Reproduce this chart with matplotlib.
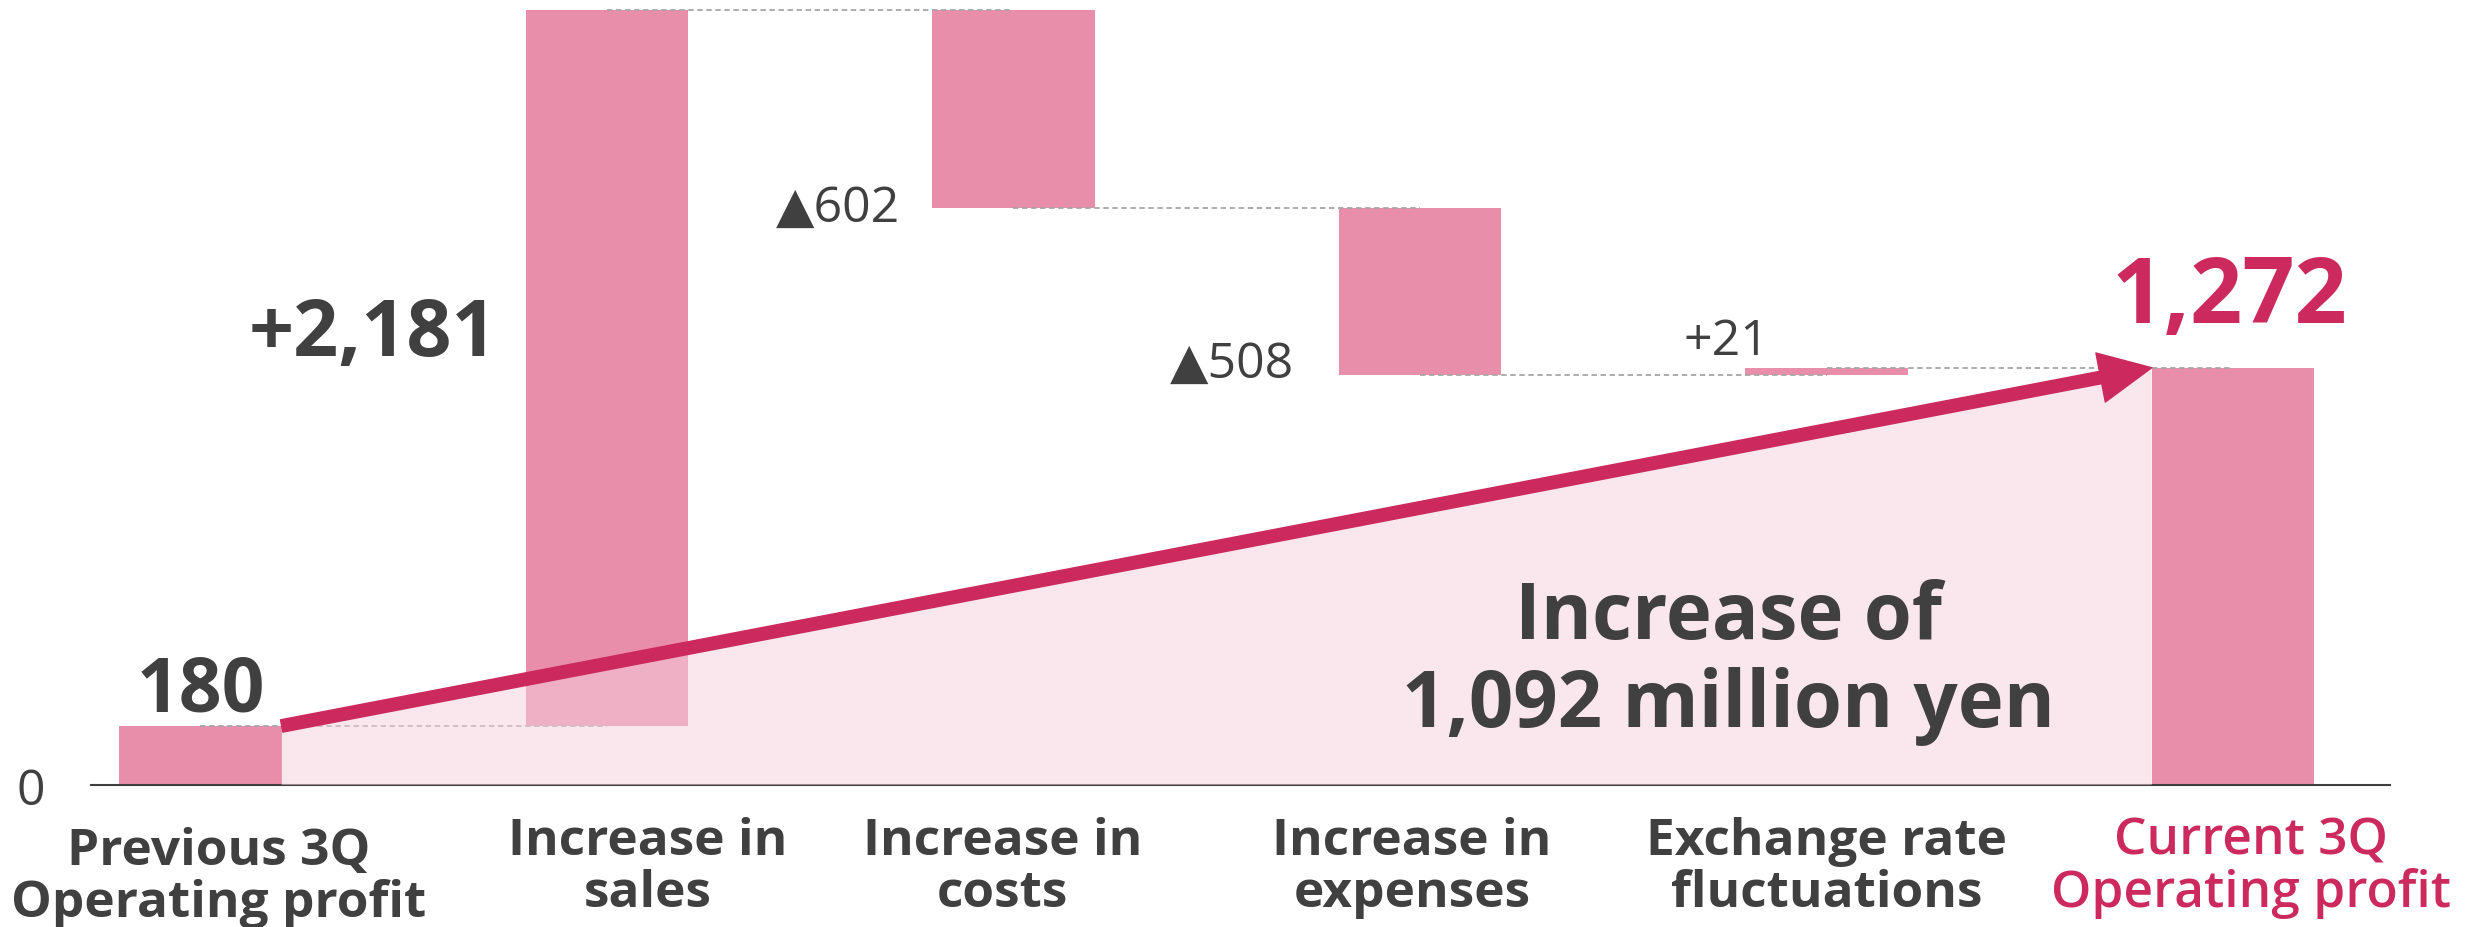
import matplotlib
matplotlib.use("Agg")
import matplotlib.pyplot as plt
from matplotlib.patches import Polygon, FancyArrowPatch

plt.rcParams['font.family'] = ['Open Sans', 'DejaVu Sans']

# data
categories = ["Previous 3Q\nOperating profit", "Increase in\nsales", "Increase in\ncosts",
              "Increase in\nexpenses", "Exchange rate\nfluctuations", "Current 3Q\nOperating profit"]
start_value = 180
changes = [2181, -602, -508, 21]
end_value = 1272
change_labels = ["+2,181", "\u25b2602", "\u25b2508", "+21"]
start_label = "180"
end_label = "1,272"
summary_text = "Increase of\n1,092 million yen"

# colours
bar_color = "#E88EAB"
fill_color = "#F7D1DF"
accent = "#CC2A5E"
dark = "#404040"
dash_color = "#A6A6A6"

# waterfall geometry
levels = [start_value]
for c in changes:
    levels.append(levels[-1] + c)
bottoms = [0]
heights = [start_value]
for i, c in enumerate(changes):
    bottoms.append(min(levels[i], levels[i + 1]))
    heights.append(abs(c))
bottoms.append(0)
heights.append(end_value)
xs = list(range(len(categories)))
width = 0.4

fig = plt.figure(figsize=(24.66, 9.28), dpi=100)
ax = fig.add_axes([91 / 2466, 142 / 928, 2299 / 2466, 786 / 928])
ax.set_xlim(-0.269, 5.386)
ax.set_ylim(0, 2396)

ax.bar(xs, heights, width=width, bottom=bottoms, color=bar_color, zorder=2)

# connectors between bar centres
for i, lv in enumerate(levels):
    ax.plot([i, i + 1], [lv, lv], ls=(0, (3, 2)), color=dash_color, lw=1.3, zorder=2.6)

# shaded wedge under the arrow
x0, x1 = xs[0] + width / 2, xs[-1] - width / 2
wedge = Polygon([(x0, 0), (x0, start_value), (x1, end_value), (x1, 0)],
                closed=True, facecolor=fill_color, edgecolor='none', alpha=0.5, zorder=3)
ax.add_patch(wedge)

arrow = FancyArrowPatch((x0, start_value), (x1, end_value),
                        arrowstyle='simple,head_length=1.25,head_width=1.2,tail_width=0.3',
                        mutation_scale=30, color=accent, shrinkA=0, shrinkB=0, zorder=5)
ax.add_patch(arrow)

# value labels
ax.text(0, 228, start_label, ha='center', va='baseline', fontsize=54,
        fontweight='bold', color=dark, zorder=6)
ax.text(0.73, 1310, change_labels[0], ha='right', va='baseline', fontsize=57,
        fontweight='bold', color=dark, zorder=6)
small_pos = [(1.72, 1720), (2.69, 1243), (3.86, 1313)]
for (px, py), lab in zip(small_pos, change_labels[1:]):
    ax.text(px, py, lab, ha='right', va='baseline', fontsize=36, color=dark, zorder=6)
ax.text(4.99, 1410, end_label, ha='center', va='baseline', fontsize=66,
        fontweight='bold', color=accent, zorder=6)
ax.text(3.76, 180, summary_text, ha='center', va='baseline', fontsize=56,
        fontweight='bold', color=dark, linespacing=1.15, zorder=6)

# category labels (baseline of the second line)
label_dx = [0.045, 0.10, -0.027, -0.02, 0.0, 0.043]
label_y = [-399, -369, -369, -369, -369, -369]
for i, cat in enumerate(categories):
    last = i == len(categories) - 1
    ax.text(xs[i] + label_dx[i], label_y[i], cat, ha='center', va='baseline',
            fontsize=37, fontweight='semibold' if last else 'bold',
            color=accent if last else dark, linespacing=1.05, clip_on=False)

ax.set_xticks([])
ax.set_yticks([0])
ax.set_yticklabels(['0'])
ax.tick_params(axis='y', length=0, pad=33, labelsize=36, labelcolor=dark)
for s in ['top', 'right', 'left']:
    ax.spines[s].set_visible(False)
ax.spines['bottom'].set_color('#3F3F3F')
ax.spines['bottom'].set_linewidth(1.5)
ax.spines['bottom'].set_zorder(2.5)

fig.savefig('out.png', dpi=100)
